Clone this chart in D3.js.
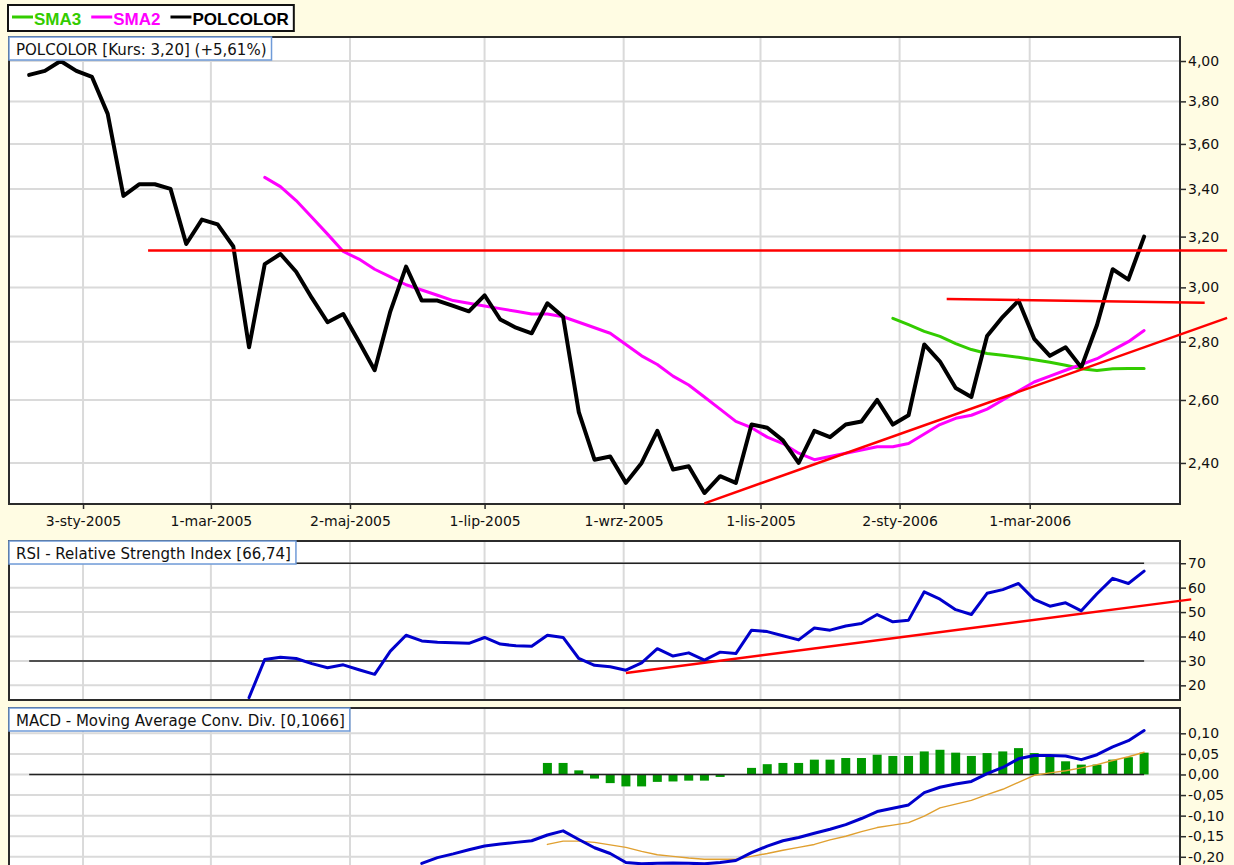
<!DOCTYPE html>
<html>
<head>
<meta charset="utf-8">
<script src="https://cdn.jsdelivr.net/npm/d3@7"></script>
<style>
  body { margin: 0; background: #fffce3; }
  svg { display: block; font-family: "DejaVu Sans", Verdana, sans-serif; }
</style>
</head>
<body>
<svg id="chart" width="1234" height="865"></svg>
<script>
// weekly quotes, first bar
const firstWeek = "2004-12-10";

const xTickDates = ["2005-01-03", "2005-03-01", "2005-05-02", "2005-07-01", "2005-09-01", "2005-11-01", "2006-01-02", "2006-03-01"];
const xTickLabels = ["3-sty-2005", "1-mar-2005", "2-maj-2005", "1-lip-2005", "1-wrz-2005", "1-lis-2005", "2-sty-2006", "1-mar-2006"];

const polcolor = [
  3.93, 3.95, 4.00, 3.95, 3.92, 3.74, 3.37, 3.42, 3.42, 3.40,
  3.17, 3.27, 3.25, 3.16, 2.78, 3.09, 3.13, 3.06, 2.96, 2.87,
  2.90, 2.80, 2.70, 2.91, 3.08, 2.95, 2.95, 2.93, 2.91, 2.97,
  2.88, 2.85, 2.83, 2.94, 2.89, 2.56, 2.41, 2.42, 2.34, 2.40,
  2.50, 2.38, 2.39, 2.31, 2.36, 2.34, 2.52, 2.51, 2.47, 2.40,
  2.50, 2.48, 2.52, 2.53, 2.60, 2.52, 2.55, 2.79, 2.73, 2.64,
  2.61, 2.82, 2.89, 2.95, 2.81, 2.75, 2.78, 2.71, 2.86, 3.07,
  3.03, 3.20
];

const sma2Start = 15;
const sma2 = [
  3.45, 3.41, 3.35, 3.28, 3.21, 3.14, 3.11, 3.07, 3.04, 3.01,
  2.99, 2.97, 2.95, 2.94, 2.93, 2.92, 2.91, 2.90, 2.90, 2.89,
  2.87, 2.85, 2.83, 2.79, 2.75, 2.72, 2.68, 2.65, 2.61, 2.57,
  2.53, 2.51, 2.48, 2.46, 2.43, 2.41, 2.42, 2.43, 2.44, 2.45,
  2.45, 2.46, 2.49, 2.52, 2.54, 2.55, 2.57, 2.60, 2.63, 2.66,
  2.68, 2.70, 2.72, 2.74, 2.77, 2.80, 2.84
];

const sma3Start = 55;
const sma3 = [2.884, 2.861, 2.837, 2.819, 2.793, 2.772, 2.758, 2.752, 2.745, 2.736, 2.728, 2.717, 2.705, 2.699, 2.705, 2.706, 2.706];

const rsiStart = 14;
const rsi = [
  15.0, 30.6, 31.5, 31.0, 28.9, 27.2, 28.4, 26.4, 24.5, 34.0,
  40.5, 38.2, 37.6, 37.4, 37.2, 39.6, 36.9, 36.2, 36.0, 40.5,
  39.6, 31.0, 28.2, 27.6, 26.2, 29.2, 35.0, 32.0, 33.3, 30.3,
  33.6, 33.0, 42.6, 42.0, 40.3, 38.6, 43.5, 42.6, 44.3, 45.3,
  49.0, 46.0, 46.7, 58.3, 55.3, 51.0, 49.0, 57.7, 59.2, 61.7,
  55.2, 52.4, 53.8, 50.5, 57.5, 63.8, 61.7, 66.74
];

const macdStart = 25;
const macd = [
  -0.216, -0.202, -0.193, -0.183, -0.174, -0.169, -0.165, -0.161, -0.147, -0.137,
  -0.158, -0.178, -0.192, -0.214, -0.217, -0.216, -0.215, -0.216, -0.217, -0.214,
  -0.209, -0.190, -0.174, -0.161, -0.153, -0.143, -0.133, -0.122, -0.107, -0.090,
  -0.082, -0.074, -0.044, -0.031, -0.023, -0.017, 0.002, 0.017, 0.038, 0.046,
  0.046, 0.045, 0.036, 0.048, 0.067, 0.082, 0.1066
];

const signalStart = 33;
const signal = [
  -0.170, -0.162, -0.162, -0.165, -0.171, -0.177, -0.187, -0.195, -0.199, -0.203,
  -0.206, -0.206, -0.206, -0.199, -0.192, -0.184, -0.177, -0.170, -0.159, -0.150,
  -0.139, -0.129, -0.123, -0.117, -0.101, -0.081, -0.072, -0.063, -0.049, -0.036,
  -0.019, -0.002, 0.004, 0.009, 0.016, 0.024, 0.034, 0.043, 0.054
];

const histStart = 33;
const hist = [
  0.028, 0.028, 0.010, -0.010, -0.021, -0.029, -0.029, -0.018, -0.017, -0.015,
  -0.015, -0.006, 0.000, 0.016, 0.025, 0.028, 0.028, 0.036, 0.036, 0.040,
  0.040, 0.048, 0.045, 0.045, 0.056, 0.060, 0.053, 0.045, 0.052, 0.056,
  0.064, 0.052, 0.046, 0.032, 0.024, 0.024, 0.036, 0.042, 0.053
];

// hand drawn lines: [from, to, value at start, value at end]
const priceTrends = [
  ["2005-02-01", "2006-05-28", 3.144, 3.144],
  ["2006-01-23", "2006-05-18", 2.956, 2.942],
  ["2005-10-07", "2006-05-28", 2.280, 2.886]
];
const rsiTrends = [["2005-09-02", "2006-05-12", 25.1, 55.2]];

const priceTicks = [2.4, 2.6, 2.8, 3.0, 3.2, 3.4, 3.6, 3.8, 4.0];
const rsiTicks = [20, 30, 40, 50, 60, 70];
const rsiLevels = [30, 70];
const macdTicks = [-0.2, -0.15, -0.1, -0.05, 0, 0.05, 0.1];
const macdLevels = [0];

const legendItems = [["SMA3", "#33cc00"], ["SMA2", "#ff00ff"], ["POLCOLOR", "#000000"]];

// ---------------------------------------------------------------------------
const svg = d3.select("#chart");
const parse = d3.timeParse("%Y-%m-%d");
const pl = d3.formatLocale({ decimal: ",", thousands: " ", grouping: [3], currency: ["", ""], minus: "-" });
const fmt2 = pl.format(".2f");

const left = 9, right = 1180;
const gridColor = "#dadada";
const frameColor = "#2b2b2b";

const weeks = polcolor.map((_, i) => d3.timeWeek.offset(parse(firstWeek), i));
const x = d3.scaleTime().domain([parse("2004-12-01"), parse("2006-05-07")]).range([left, right]);
const tickDates = xTickDates.map(parse);

const series = (values, start) => values.map((v, k) => ({ date: weeks[start + k], value: v }));

function makePanel(id, top, bottom, y, ticks, tickFormat, title) {
  const g = svg.append("g");
  g.append("rect")
    .attr("x", left).attr("y", top)
    .attr("width", right - left).attr("height", bottom - top)
    .attr("fill", "#fff");

  g.append("clipPath").attr("id", "clip-" + id)
    .append("rect")
    .attr("x", left).attr("y", top)
    .attr("width", right - left).attr("height", bottom - top);

  const grid = g.append("g").attr("stroke", gridColor).attr("stroke-width", 2);
  grid.selectAll(".h").data(ticks).join("line").attr("class", "h")
    .attr("x1", left).attr("x2", right)
    .attr("y1", (d) => y(d)).attr("y2", (d) => y(d));
  grid.selectAll(".v").data(tickDates).join("line").attr("class", "v")
    .attr("x1", (d) => x(d)).attr("x2", (d) => x(d))
    .attr("y1", top).attr("y2", bottom);

  const plot = g.append("g").attr("clip-path", `url(#clip-${id})`);
  const frame = g.append("g");

  frame.append("rect")
    .attr("x", left).attr("y", top)
    .attr("width", right - left).attr("height", bottom - top)
    .attr("fill", "none").attr("stroke", frameColor).attr("stroke-width", 2);

  const axis = frame.append("g")
    .attr("transform", `translate(${right},0)`)
    .call(d3.axisRight(y).tickValues(ticks).tickFormat(tickFormat).tickSize(6).tickPadding(2));
  axis.select(".domain").remove();
  axis.selectAll("line").attr("stroke", frameColor).attr("stroke-width", 1.5);
  axis.selectAll("text").attr("fill", "#111").attr("font-size", 14)
    .attr("font-family", '"DejaVu Sans", Verdana, sans-serif');

  const over = g.append("g");

  const tb = g.append("g");
  const rect = tb.append("rect")
    .attr("x", left).attr("y", top)
    .attr("height", 23)
    .attr("fill", "#fff").attr("stroke", "#6f9bd8").attr("stroke-width", 1.5);
  const txt = tb.append("text")
    .attr("x", left + 7).attr("y", top + 18)
    .attr("font-size", 15).attr("fill", "#111")
    .text(title);
  rect.attr("width", txt.node().getComputedTextLength() + 12);

  return { plot, over, y };
}

function drawLine(layer, data, y, color, width) {
  layer.append("path")
    .datum(data)
    .attr("fill", "none")
    .attr("stroke", color)
    .attr("stroke-width", width)
    .attr("stroke-linejoin", "round")
    .attr("stroke-linecap", "round")
    .attr("d", d3.line().x((d) => x(d.date)).y((d) => y(d.value)));
}

function drawTrends(layer, trends, y) {
  layer.selectAll(null).data(trends).join("line")
    .attr("x1", (d) => x(parse(d[0]))).attr("y1", (d) => y(d[2]))
    .attr("x2", (d) => x(parse(d[1]))).attr("y2", (d) => y(d[3]))
    .attr("stroke", "#ff0000").attr("stroke-width", 2.5);
}

function drawLevels(layer, levels, y) {
  layer.selectAll(null).data(levels).join("line")
    .attr("x1", x(weeks[0])).attr("x2", x(weeks[weeks.length - 1]))
    .attr("y1", (d) => y(d)).attr("y2", (d) => y(d))
    .attr("stroke", "#222").attr("stroke-width", 1.5);
}

// ---- price panel (log scale)
const yPrice = d3.scaleLog().domain([2.278, 4.124]).range([504, 37]);
const price = makePanel("price", 37, 504, yPrice, priceTicks, fmt2, "POLCOLOR [Kurs: 3,20] (+5,61%)");
drawLine(price.plot, series(sma3, sma3Start), yPrice, "#33cc00", 3);
drawLine(price.plot, series(sma2, sma2Start), yPrice, "#ff00ff", 3);
drawLine(price.plot, series(polcolor, 0), yPrice, "#000", 4);
drawTrends(price.over, priceTrends, yPrice);

const xAxis = svg.append("g")
  .attr("transform", "translate(0,504)")
  .call(d3.axisBottom(x).tickValues(tickDates).tickFormat((d, i) => xTickLabels[i]).tickSize(5).tickPadding(7));
xAxis.select(".domain").remove();
xAxis.selectAll("line").attr("stroke", frameColor).attr("stroke-width", 1.5);
xAxis.selectAll("text").attr("fill", "#111").attr("font-size", 14)
  .attr("font-family", '"DejaVu Sans", Verdana, sans-serif');

// ---- RSI panel
const yRsi = d3.scaleLinear().domain([14, 79.1]).range([700, 541]);
const rsiPanel = makePanel("rsi", 541, 700, yRsi, rsiTicks, d3.format("d"), "RSI - Relative Strength Index [66,74]");
drawLevels(rsiPanel.plot, rsiLevels, yRsi);
drawLine(rsiPanel.plot, series(rsi, rsiStart), yRsi, "#0000cc", 3);
drawTrends(rsiPanel.over, rsiTrends, yRsi);

// ---- MACD panel
const yMacd = d3.scaleLinear().domain([-0.305, 0.1615]).range([900, 708]);
const macdPanel = makePanel("macd", 708, 900, yMacd, macdTicks, fmt2, "MACD - Moving Average Conv. Div. [0,1066]");
macdPanel.plot.selectAll(".bar").data(series(hist, histStart)).join("rect").attr("class", "bar")
  .attr("x", (d) => x(d.date) - 4.5)
  .attr("width", 9)
  .attr("y", (d) => Math.min(yMacd(d.value), yMacd(0)))
  .attr("height", (d) => Math.abs(yMacd(d.value) - yMacd(0)))
  .attr("fill", "#009900");
drawLevels(macdPanel.plot, macdLevels, yMacd);
drawLine(macdPanel.plot, series(signal, signalStart), yMacd, "#e0a030", 1.4);
drawLine(macdPanel.plot, series(macd, macdStart), yMacd, "#0000cc", 3);

// ---- legend
const legend = svg.append("g");
const legendBox = legend.append("rect")
  .attr("x", 8).attr("y", 5).attr("height", 26)
  .attr("fill", "#fff").attr("stroke", "#111").attr("stroke-width", 2);
let lx = 12;
legendItems.forEach(([name, color]) => {
  legend.append("line")
    .attr("x1", lx).attr("x2", lx + 21).attr("y1", 17).attr("y2", 17)
    .attr("stroke", color).attr("stroke-width", 3);
  const t = legend.append("text")
    .attr("x", lx + 22).attr("y", 25)
    .attr("font-family", '"Liberation Sans", Arial, sans-serif')
    .attr("font-weight", "bold").attr("font-size", 17)
    .attr("fill", color)
    .text(name);
  lx += 22 + t.node().getComputedTextLength() + 10;
});
legendBox.attr("width", lx - 10 + 5 - 8);
</script>
</body>
</html>
